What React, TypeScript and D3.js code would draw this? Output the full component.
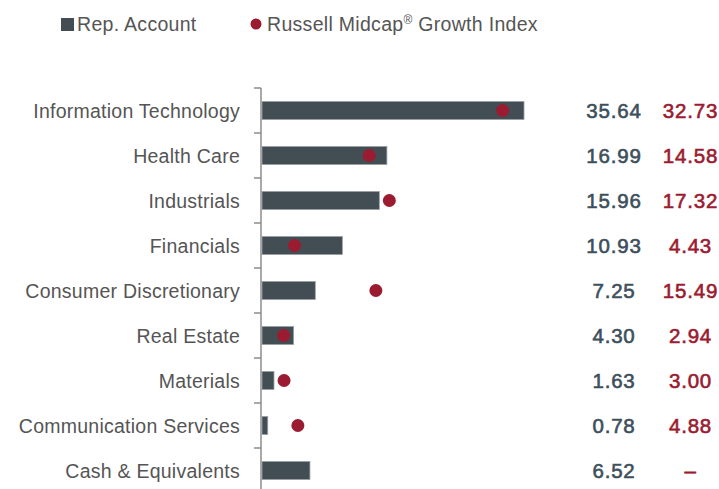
import React from "react";
import * as d3 from "d3";

const categories = [
  "Information Technology",
  "Health Care",
  "Industrials",
  "Financials",
  "Consumer Discretionary",
  "Real Estate",
  "Materials",
  "Communication Services",
  "Cash & Equivalents",
];
const repAccount = [35.64, 16.99, 15.96, 10.93, 7.25, 4.3, 1.63, 0.78, 6.52];
const indexValues: (number | null)[] = [32.73, 14.58, 17.32, 4.43, 15.49, 2.94, 3.0, 4.88, null];
const seriesNames = ["Rep. Account", "Russell Midcap", "®", " Growth Index"];

const W = 719;
const H = 489;
const axisX = 261;
const topY = 88;
const step = 45;

export default function App() {
  const y = d3
    .scaleBand<string>()
    .domain(categories)
    .range([topY, topY + step * categories.length])
    .paddingInner(0.6)
    .paddingOuter(0.3);
  const x = d3.scaleLinear().domain([0, 35.64]).range([axisX + 1, 524]);
  const bw = y.bandwidth();
  const font = "'Liberation Sans', Arial, Helvetica, sans-serif";
  const boundaries = categories.map((_, i) => topY + i * step);
  boundaries.push(topY + categories.length * step);

  return (
    <svg
      width={W}
      height={H}
      style={{ position: "absolute", left: 0, top: 0, display: "block" }}
      fontFamily={font}
    >
      <rect width={W} height={H} fill="#fff" />
      {/* legend */}
      <rect x={61} y={18} width={13} height={13} fill="#434d54" />
      <text x={77} y={30.5} fontSize={19.5} fill="#555" letterSpacing={0.3}>
        {seriesNames[0]}
      </text>
      <circle cx={256} cy={24} r={5.5} fill="#9b1b30" />
      <text x={267} y={30.5} fontSize={19.5} fill="#555" letterSpacing={0.3}>
        {seriesNames[1]}
        <tspan fontSize={12} dy={-7}>{seriesNames[2]}</tspan>
        <tspan dy={7}>{seriesNames[3]}</tspan>
      </text>

      {/* axis */}
      <line x1={axisX} x2={axisX} y1={topY} y2={H} stroke="#8c8c8c" strokeWidth={1.5} />
      {boundaries.map((b, i) => (
        <line key={i} x1={254} x2={axisX} y1={b} y2={b} stroke="#8c8c8c" strokeWidth={1.5} />
      ))}

      {categories.map((c, i) => {
        const cy = (y(c) as number) + bw / 2;
        const iv = indexValues[i];
        return (
          <g key={c}>
            <text
              x={240}
              y={cy}
              dy="0.38em"
              textAnchor="end"
              fontSize={19.5}
              letterSpacing={0.25}
              fill="#555"
            >
              {c}
            </text>
            <rect
              x={x(0)}
              y={y(c)}
              width={x(repAccount[i]) - x(0)}
              height={bw}
              fill="#434d54"
              stroke="#9aa0a4"
              strokeWidth={0.8}
            />
            {iv !== null && <circle cx={x(iv)} cy={cy} r={6.5} fill="#9b1b30" />}
            <text
              x={614}
              y={cy}
              dy="0.38em"
              textAnchor="middle"
              fontSize={20.5}
              letterSpacing={0.8}
              fill="#3e4f5c"
              stroke="#3e4f5c"
              strokeWidth={0.6}
            >
              {repAccount[i].toFixed(2)}
            </text>
            <text
              x={690.5}
              y={cy}
              dy="0.38em"
              textAnchor="middle"
              fontSize={20.5}
              letterSpacing={0.8}
              fill="#9b1b30"
              stroke="#9b1b30"
              strokeWidth={0.6}
            >
              {iv === null ? "–" : iv.toFixed(2)}
            </text>
          </g>
        );
      })}
    </svg>
  );
}
